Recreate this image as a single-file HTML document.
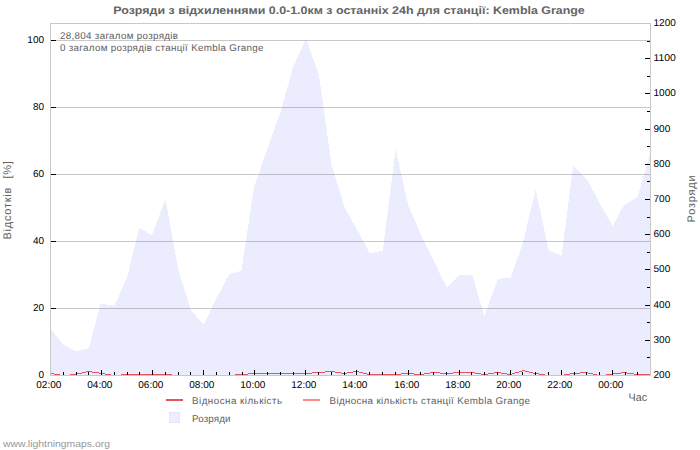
<!DOCTYPE html><html><head><meta charset="utf-8"><style>html,body{margin:0;padding:0;background:#fff;}svg{display:block;}text{font-family:"Liberation Sans",sans-serif;text-rendering:geometricPrecision;}</style></head><body>
<svg width="700" height="450" viewBox="0 0 700 450">
<rect width="700" height="450" fill="#fff"/>
<polygon points="50,375 50.5,328.8 63.3,344.5 76.1,351.0 88.8,348.4 100.6,303.6 114.4,305.8 127.2,277.0 139.2,228.0 152.0,235.0 165.5,199.2 178.3,269.5 191.1,311.0 203.9,324.0 216.6,298.0 229.4,274.0 241.4,271.0 253.9,188.0 267.8,147.5 280.5,112.0 293.3,66.5 306.1,38.5 318.9,75.0 331.7,165.0 344.4,207.0 357.2,230.0 370.0,253.5 382.8,250.5 395.6,149.2 408.3,205.5 421.1,235.0 433.9,261.0 446.7,287.5 459.5,274.5 472.2,274.5 484.4,316.3 497.8,279.0 510.6,277.5 522.2,245.5 535.6,190.0 548.9,250.5 561.7,255.6 573.2,165.5 587.3,179.5 600.0,204.0 612.8,226.0 623.6,205.5 637.5,197.0 650.0,154.4 650,375" fill="#ECECFF" shape-rendering="crispEdges"/>
<rect x="51" y="308" width="599" height="1" fill="#000" fill-opacity="0.21"/>
<rect x="51" y="241" width="599" height="1" fill="#000" fill-opacity="0.21"/>
<rect x="51" y="174" width="599" height="1" fill="#000" fill-opacity="0.21"/>
<rect x="51" y="107" width="599" height="1" fill="#000" fill-opacity="0.21"/>
<rect x="51" y="40" width="599" height="1" fill="#000" fill-opacity="0.21"/>
<rect x="50.5" y="23.5" width="600" height="352" fill="none" stroke="#C8C8C8" stroke-width="1"/>
<g fill="#E4545C" shape-rendering="crispEdges"><rect x="51" y="373" width="3" height="1"/><rect x="54" y="374" width="6" height="1"/><rect x="70" y="374" width="7" height="1"/><rect x="77" y="373" width="5" height="1"/><rect x="82" y="372" width="4" height="1"/><rect x="86" y="371" width="6" height="1"/><rect x="92" y="372" width="7" height="1"/><rect x="99" y="373" width="6" height="1"/><rect x="105" y="374" width="6" height="1"/><rect x="121" y="374" width="51" height="1"/><rect x="235" y="374" width="13" height="1"/><rect x="248" y="373" width="64" height="1"/><rect x="312" y="372" width="13" height="1"/><rect x="325" y="371" width="10" height="1"/><rect x="335" y="372" width="6" height="1"/><rect x="341" y="373" width="6" height="1"/><rect x="347" y="372" width="6" height="1"/><rect x="353" y="371" width="6" height="1"/><rect x="359" y="372" width="4" height="1"/><rect x="363" y="373" width="4" height="1"/><rect x="367" y="374" width="34" height="1"/><rect x="401" y="373" width="13" height="1"/><rect x="414" y="374" width="10" height="1"/><rect x="424" y="373" width="6" height="1"/><rect x="430" y="372" width="10" height="1"/><rect x="440" y="373" width="13" height="1"/><rect x="453" y="372" width="22" height="1"/><rect x="475" y="373" width="6" height="1"/><rect x="481" y="374" width="7" height="1"/><rect x="488" y="373" width="6" height="1"/><rect x="494" y="372" width="7" height="1"/><rect x="501" y="373" width="6" height="1"/><rect x="507" y="374" width="5" height="1"/><rect x="512" y="373" width="3" height="1"/><rect x="515" y="372" width="4" height="1"/><rect x="519" y="371" width="3" height="1"/><rect x="522" y="370" width="3" height="1"/><rect x="525" y="371" width="4" height="1"/><rect x="529" y="372" width="4" height="1"/><rect x="533" y="373" width="6" height="1"/><rect x="539" y="374" width="6" height="1"/><rect x="564" y="374" width="6" height="1"/><rect x="570" y="373" width="10" height="1"/><rect x="580" y="372" width="8" height="1"/><rect x="588" y="373" width="5" height="1"/><rect x="593" y="374" width="4" height="1"/><rect x="606" y="374" width="6" height="1"/><rect x="612" y="373" width="9" height="1"/><rect x="621" y="372" width="6" height="1"/><rect x="627" y="373" width="7" height="1"/><rect x="634" y="374" width="16" height="1"/></g>
<text x="44.1" y="378.0" font-size="10" text-anchor="end" fill="#000" textLength="5.58" lengthAdjust="spacingAndGlyphs">0</text>
<rect x="51" y="308" width="5" height="1" fill="#000"/>
<text x="44.1" y="311.0" font-size="10" text-anchor="end" fill="#000" textLength="11.15" lengthAdjust="spacingAndGlyphs">20</text>
<rect x="51" y="241" width="5" height="1" fill="#000"/>
<text x="44.1" y="244.0" font-size="10" text-anchor="end" fill="#000" textLength="11.15" lengthAdjust="spacingAndGlyphs">40</text>
<rect x="51" y="174" width="5" height="1" fill="#000"/>
<text x="44.1" y="177.0" font-size="10" text-anchor="end" fill="#000" textLength="11.15" lengthAdjust="spacingAndGlyphs">60</text>
<rect x="51" y="107" width="5" height="1" fill="#000"/>
<text x="44.1" y="110.0" font-size="10" text-anchor="end" fill="#000" textLength="11.15" lengthAdjust="spacingAndGlyphs">80</text>
<rect x="51" y="40" width="5" height="1" fill="#000"/>
<text x="44.1" y="43.0" font-size="10" text-anchor="end" fill="#000" textLength="16.73" lengthAdjust="spacingAndGlyphs">100</text>
<text x="653.5" y="377.9" font-size="10" fill="#000" textLength="16.73" lengthAdjust="spacingAndGlyphs">200</text>
<rect x="647" y="357" width="3" height="1" fill="#000"/>
<rect x="645" y="340" width="5" height="1" fill="#000"/>
<text x="653.5" y="342.7" font-size="10" fill="#000" textLength="16.73" lengthAdjust="spacingAndGlyphs">300</text>
<rect x="647" y="322" width="3" height="1" fill="#000"/>
<rect x="645" y="305" width="5" height="1" fill="#000"/>
<text x="653.5" y="307.5" font-size="10" fill="#000" textLength="16.73" lengthAdjust="spacingAndGlyphs">400</text>
<rect x="647" y="287" width="3" height="1" fill="#000"/>
<rect x="645" y="269" width="5" height="1" fill="#000"/>
<text x="653.5" y="272.3" font-size="10" fill="#000" textLength="16.73" lengthAdjust="spacingAndGlyphs">500</text>
<rect x="647" y="252" width="3" height="1" fill="#000"/>
<rect x="645" y="234" width="5" height="1" fill="#000"/>
<text x="653.5" y="237.1" font-size="10" fill="#000" textLength="16.73" lengthAdjust="spacingAndGlyphs">600</text>
<rect x="647" y="217" width="3" height="1" fill="#000"/>
<rect x="645" y="199" width="5" height="1" fill="#000"/>
<text x="653.5" y="201.9" font-size="10" fill="#000" textLength="16.73" lengthAdjust="spacingAndGlyphs">700</text>
<rect x="647" y="181" width="3" height="1" fill="#000"/>
<rect x="645" y="164" width="5" height="1" fill="#000"/>
<text x="653.5" y="166.7" font-size="10" fill="#000" textLength="16.73" lengthAdjust="spacingAndGlyphs">800</text>
<rect x="647" y="146" width="3" height="1" fill="#000"/>
<rect x="645" y="129" width="5" height="1" fill="#000"/>
<text x="653.5" y="131.5" font-size="10" fill="#000" textLength="16.73" lengthAdjust="spacingAndGlyphs">900</text>
<rect x="647" y="111" width="3" height="1" fill="#000"/>
<rect x="645" y="93" width="5" height="1" fill="#000"/>
<text x="653.5" y="96.3" font-size="10" fill="#000" textLength="22.31" lengthAdjust="spacingAndGlyphs">1000</text>
<rect x="647" y="76" width="3" height="1" fill="#000"/>
<rect x="645" y="58" width="5" height="1" fill="#000"/>
<text x="653.5" y="61.1" font-size="10" fill="#000" textLength="22.31" lengthAdjust="spacingAndGlyphs">1100</text>
<rect x="647" y="41" width="3" height="1" fill="#000"/>
<text x="653.5" y="25.9" font-size="10" fill="#000" textLength="22.31" lengthAdjust="spacingAndGlyphs">1200</text>
<text x="48.8" y="387.8" font-size="10" text-anchor="middle" fill="#000" textLength="25.1" lengthAdjust="spacingAndGlyphs">02:00</text>
<rect x="63" y="372" width="1" height="3" fill="#000"/>
<rect x="76" y="372" width="1" height="3" fill="#000"/>
<rect x="88" y="372" width="1" height="3" fill="#000"/>
<rect x="101" y="370" width="1" height="5" fill="#000"/>
<text x="99.8" y="387.8" font-size="10" text-anchor="middle" fill="#000" textLength="25.1" lengthAdjust="spacingAndGlyphs">04:00</text>
<rect x="114" y="372" width="1" height="3" fill="#000"/>
<rect x="127" y="372" width="1" height="3" fill="#000"/>
<rect x="139" y="372" width="1" height="3" fill="#000"/>
<rect x="152" y="370" width="1" height="5" fill="#000"/>
<text x="150.8" y="387.8" font-size="10" text-anchor="middle" fill="#000" textLength="25.1" lengthAdjust="spacingAndGlyphs">06:00</text>
<rect x="165" y="372" width="1" height="3" fill="#000"/>
<rect x="178" y="372" width="1" height="3" fill="#000"/>
<rect x="190" y="372" width="1" height="3" fill="#000"/>
<rect x="203" y="370" width="1" height="5" fill="#000"/>
<text x="201.8" y="387.8" font-size="10" text-anchor="middle" fill="#000" textLength="25.1" lengthAdjust="spacingAndGlyphs">08:00</text>
<rect x="216" y="372" width="1" height="3" fill="#000"/>
<rect x="229" y="372" width="1" height="3" fill="#000"/>
<rect x="242" y="372" width="1" height="3" fill="#000"/>
<rect x="254" y="370" width="1" height="5" fill="#000"/>
<text x="252.8" y="387.8" font-size="10" text-anchor="middle" fill="#000" textLength="25.1" lengthAdjust="spacingAndGlyphs">10:00</text>
<rect x="267" y="372" width="1" height="3" fill="#000"/>
<rect x="280" y="372" width="1" height="3" fill="#000"/>
<rect x="293" y="372" width="1" height="3" fill="#000"/>
<rect x="305" y="370" width="1" height="5" fill="#000"/>
<text x="303.8" y="387.8" font-size="10" text-anchor="middle" fill="#000" textLength="25.1" lengthAdjust="spacingAndGlyphs">12:00</text>
<rect x="318" y="372" width="1" height="3" fill="#000"/>
<rect x="331" y="372" width="1" height="3" fill="#000"/>
<rect x="344" y="372" width="1" height="3" fill="#000"/>
<rect x="356" y="370" width="1" height="5" fill="#000"/>
<text x="354.8" y="387.8" font-size="10" text-anchor="middle" fill="#000" textLength="25.1" lengthAdjust="spacingAndGlyphs">14:00</text>
<rect x="369" y="372" width="1" height="3" fill="#000"/>
<rect x="382" y="372" width="1" height="3" fill="#000"/>
<rect x="395" y="372" width="1" height="3" fill="#000"/>
<rect x="408" y="370" width="1" height="5" fill="#000"/>
<text x="406.8" y="387.8" font-size="10" text-anchor="middle" fill="#000" textLength="25.1" lengthAdjust="spacingAndGlyphs">16:00</text>
<rect x="420" y="372" width="1" height="3" fill="#000"/>
<rect x="433" y="372" width="1" height="3" fill="#000"/>
<rect x="446" y="372" width="1" height="3" fill="#000"/>
<rect x="459" y="370" width="1" height="5" fill="#000"/>
<text x="457.8" y="387.8" font-size="10" text-anchor="middle" fill="#000" textLength="25.1" lengthAdjust="spacingAndGlyphs">18:00</text>
<rect x="471" y="372" width="1" height="3" fill="#000"/>
<rect x="484" y="372" width="1" height="3" fill="#000"/>
<rect x="497" y="372" width="1" height="3" fill="#000"/>
<rect x="510" y="370" width="1" height="5" fill="#000"/>
<text x="508.8" y="387.8" font-size="10" text-anchor="middle" fill="#000" textLength="25.1" lengthAdjust="spacingAndGlyphs">20:00</text>
<rect x="522" y="372" width="1" height="3" fill="#000"/>
<rect x="535" y="372" width="1" height="3" fill="#000"/>
<rect x="548" y="372" width="1" height="3" fill="#000"/>
<rect x="561" y="370" width="1" height="5" fill="#000"/>
<text x="559.8" y="387.8" font-size="10" text-anchor="middle" fill="#000" textLength="25.1" lengthAdjust="spacingAndGlyphs">22:00</text>
<rect x="574" y="372" width="1" height="3" fill="#000"/>
<rect x="586" y="372" width="1" height="3" fill="#000"/>
<rect x="599" y="372" width="1" height="3" fill="#000"/>
<rect x="612" y="370" width="1" height="5" fill="#000"/>
<text x="610.8" y="387.8" font-size="10" text-anchor="middle" fill="#000" textLength="25.1" lengthAdjust="spacingAndGlyphs">00:00</text>
<rect x="625" y="372" width="1" height="3" fill="#000"/>
<rect x="637" y="372" width="1" height="3" fill="#000"/>
<text x="113.3" y="13.8" font-size="11" font-weight="bold" fill="#646464" textLength="471.5" lengthAdjust="spacingAndGlyphs">Розряди з відхиленнями 0.0-1.0км з останніх 24h для станції: Kembla Grange</text>
<text x="60" y="39" font-size="9.8" fill="#5e5e5e" textLength="118" lengthAdjust="spacing">28,804 загалом розрядів</text>
<text x="60" y="50.5" font-size="9.8" fill="#5e5e5e" textLength="203.5" lengthAdjust="spacing">0 загалом розрядів станції Kembla Grange</text>
<text transform="translate(11.0,239.6) rotate(-90)" font-size="11" fill="#5e5e5e" textLength="52" lengthAdjust="spacing">Відсотків</text>
<text transform="translate(11.0,178.6) rotate(-90)" font-size="11" fill="#5e5e5e" textLength="17.5" lengthAdjust="spacing">[%]</text>
<text transform="translate(695,222.5) rotate(-90)" font-size="11" fill="#5e5e5e" textLength="47.2" lengthAdjust="spacing">Розряди</text>
<text x="628.6" y="400.9" font-size="11" fill="#5e5e5e" textLength="18.5" lengthAdjust="spacingAndGlyphs">Час</text>
<rect x="166" y="399" width="17" height="2" fill="#E4545C"/>
<text x="192" y="404.4" font-size="9.8" fill="#5e5e5e" textLength="90" lengthAdjust="spacing">Відносна кількість</text>
<rect x="303" y="399" width="17" height="2" fill="#FF8A8A"/>
<text x="329.5" y="404.4" font-size="9.8" fill="#5e5e5e" textLength="200.5" lengthAdjust="spacing">Відносна кількість станції Kembla Grange</text>
<rect x="169.5" y="412.5" width="10" height="10" fill="#EEEEFF" stroke="#E4E4FA" stroke-width="1"/>
<text x="192" y="422" font-size="9.8" fill="#5e5e5e" textLength="38.5" lengthAdjust="spacing">Розряди</text>
<text x="3" y="447" font-size="9.5" fill="#999" textLength="107" lengthAdjust="spacingAndGlyphs">www.lightningmaps.org</text>
</svg></body></html>
